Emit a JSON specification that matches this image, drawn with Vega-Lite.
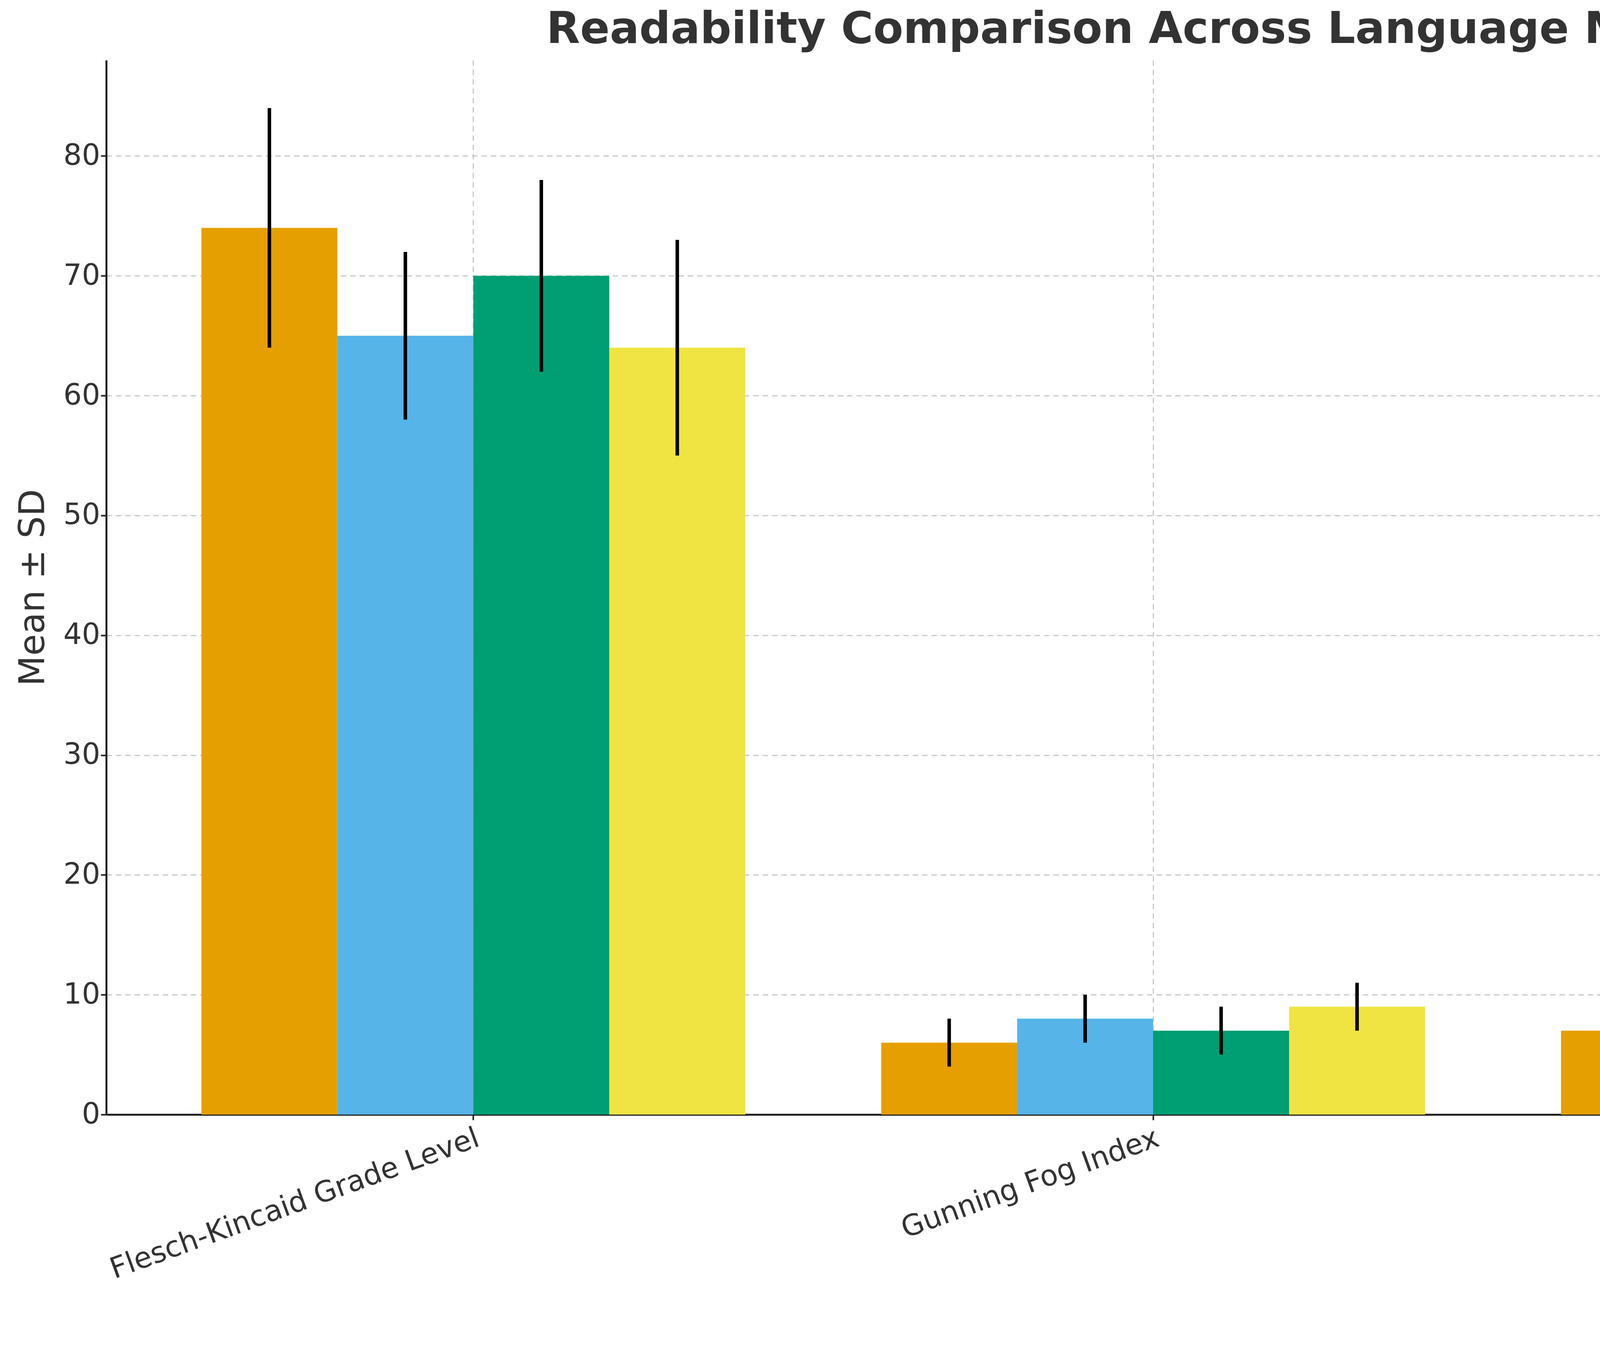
{
  "$schema": "https://vega.github.io/schema/vega-lite/v6.json",
  "width": 5360,
  "height": 2700,
  "padding": {"left": 40, "right": 20, "top": 20, "bottom": 20},
  "background": "white",
  "title": {"text": "Readability Comparison Across Language Models", "fontSize": 112, "fontWeight": "bold", "font": "DejaVu Sans", "color": "#333333", "offset": 20},
  "config": {
    "font": "DejaVu Sans",
    "view": {"stroke": null},
    "axis": {"labelFont": "DejaVu Sans", "titleFont": "DejaVu Sans", "labelColor": "#333333", "titleColor": "#333333", "labelFontSize": 74, "titleFontSize": 90, "titleFontWeight": "normal", "labelLimit": 0, "gridDash": [14, 10], "gridColor": "#c8c8c8", "gridWidth": 3, "domainColor": "#222222", "domainWidth": 5, "tickColor": "#222222", "tickWidth": 4, "tickSize": 14}
  },
  "data": {"values": [
    {"metric": "Flesch-Kincaid Grade Level", "model": "ChatGPT 4.0", "mean": 74, "lo": 64, "hi": 84},
    {"metric": "Flesch-Kincaid Grade Level", "model": "Gemini", "mean": 65, "lo": 58, "hi": 72},
    {"metric": "Flesch-Kincaid Grade Level", "model": "Copilot", "mean": 70, "lo": 62, "hi": 78},
    {"metric": "Flesch-Kincaid Grade Level", "model": "DeepSeek", "mean": 64, "lo": 55, "hi": 73},
    {"metric": "Gunning Fog Index", "model": "ChatGPT 4.0", "mean": 6, "lo": 4, "hi": 8},
    {"metric": "Gunning Fog Index", "model": "Gemini", "mean": 8, "lo": 6, "hi": 10},
    {"metric": "Gunning Fog Index", "model": "Copilot", "mean": 7, "lo": 5, "hi": 9},
    {"metric": "Gunning Fog Index", "model": "DeepSeek", "mean": 9, "lo": 7, "hi": 11},
    {"metric": "SMOG Index", "model": "ChatGPT 4.0", "mean": 7, "lo": 6, "hi": 8},
    {"metric": "SMOG Index", "model": "Gemini", "mean": 8, "lo": 7, "hi": 9},
    {"metric": "SMOG Index", "model": "Copilot", "mean": 8, "lo": 7, "hi": 9},
    {"metric": "SMOG Index", "model": "DeepSeek", "mean": 9, "lo": 8, "hi": 10}
  ]},
  "encoding": {
    "x": {"field": "metric", "type": "nominal", "sort": null, "title": null,
      "scale": {"paddingInner": 0.2, "paddingOuter": 0.14},
      "axis": {"labelAngle": -20, "grid": true, "bandPosition": 0.5, "labelAlign": "right", "labelBaseline": "top", "labelPadding": 10}},
    "xOffset": {"field": "model", "type": "nominal", "sort": ["ChatGPT 4.0", "Gemini", "Copilot", "DeepSeek"], "scale": {"paddingInner": 0, "paddingOuter": 0}}
  },
  "layer": [
    {
      "mark": {"type": "bar"},
      "encoding": {
        "y": {"field": "mean", "type": "quantitative", "title": "Mean ± SD", "scale": {"domain": [0, 88], "nice": false}, "axis": {"values": [0, 10, 20, 30, 40, 50, 60, 70, 80], "grid": true, "titlePadding": 30}},
        "color": {"field": "model", "type": "nominal", "sort": ["ChatGPT 4.0", "Gemini", "Copilot", "DeepSeek"], "title": "Models",
          "scale": {"domain": ["ChatGPT 4.0", "Gemini", "Copilot", "DeepSeek"], "range": ["#E69F00", "#56B4E9", "#009E73", "#F0E442"]},
          "legend": {"orient": "top-right", "offset": 20, "titleFontSize": 80, "titleFontWeight": "normal", "titleColor": "#333333", "labelFontSize": 72, "labelColor": "#333333", "labelLimit": 0, "titleAnchor": "middle", "symbolType": "square", "symbolSize": 6000, "symbolStrokeWidth": 0, "rowPadding": 24, "fillColor": "white", "strokeColor": "#cccccc", "padding": 28, "cornerRadius": 10}}
      }
    },
    {
      "mark": {"type": "rule", "color": "black", "strokeWidth": 9},
      "encoding": {
        "y": {"field": "lo", "type": "quantitative"},
        "y2": {"field": "hi"}
      }
    }
  ]
}
